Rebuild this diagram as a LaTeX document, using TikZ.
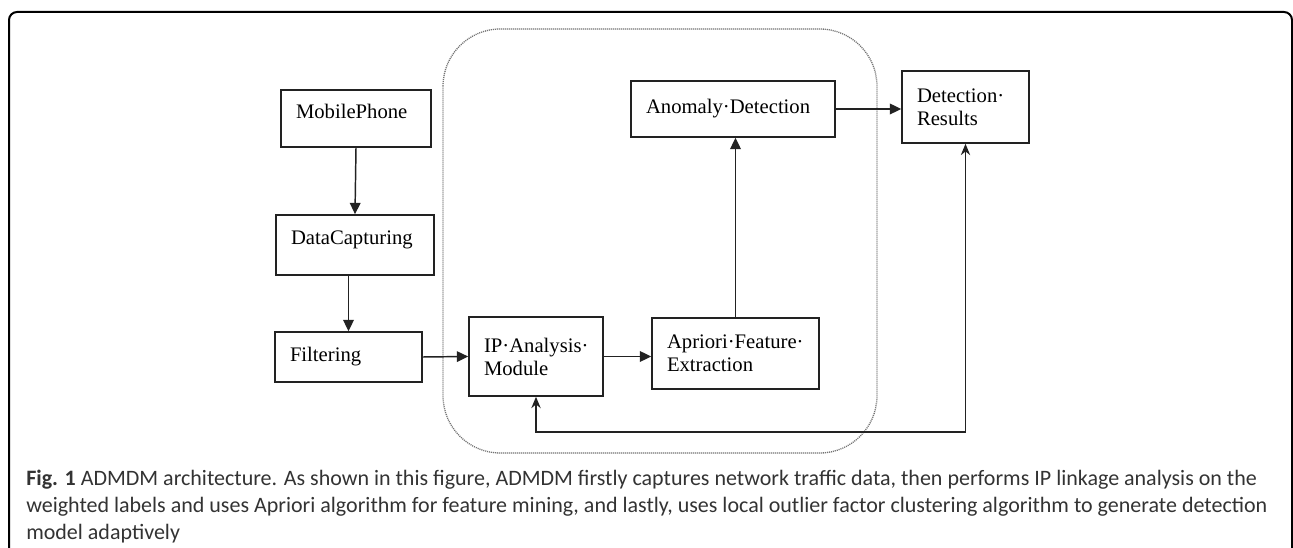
\documentclass[tikz,border=0pt]{standalone}
\usepackage{fontspec}
\setmainfont{Liberation Serif}
\newfontfamily\capfont{Carlito}
\usepackage{tikz}
\usetikzlibrary{arrows.meta, calc, positioning}
\tikzset{>=stealth}
\definecolor{linegray}{HTML}{222222}
\definecolor{capgray}{HTML}{333333}

\begin{document}
\begin{tikzpicture}[x=0.75pt, y=-0.75pt,
  block/.style={draw=linegray, line width=1.2pt, inner xsep=11.25pt, inner ysep=0pt, align=left, font=\fontsize{15.5}{17.25}\selectfont},
  arr/.style={draw=linegray, line width=1.1pt, -{Triangle[length=8.5pt,width=8pt]}},
  fb/.style={draw=linegray, line width=1.1pt, {Stealth[length=8.5pt,width=7pt]}-{Stealth[length=8.5pt,width=7pt]}},
  group/.style={draw=black!55, line width=1pt, dash pattern=on 0.8pt off 0.7pt, rounded corners=43pt}]

	\useasboundingbox (0,0) rectangle (1293,548);
	% figure frame, open at the bottom
	\draw[line width=1.5pt, rounded corners=6pt] (9,570) -- (9,12) -- (1292,12) -- (1292,570);
	% dotted group round the analysis part
	\draw[group] (443,29) rectangle (877,453);

	\node[block, text width=90pt, minimum height=42.75pt, text height=12pt, text depth=12pt] (mobile) at (356,118.5) {MobilePhone};
	\node[block, text width=96pt, minimum height=45pt, text height=12pt, text depth=12pt] (capture) at (355,245) {DataCapturing};
	\node[block, text width=87.75pt, minimum height=37.5pt] (filter) at (348.5,357) {Filtering};
	\node[block, text width=78pt, minimum height=59.25pt] (ipmod) at (536,356.5) {IP·Analysis·\\Module};
	\node[block, text width=102.75pt, minimum height=53.25pt] (apriori) at (735.5,353.5) {Apriori·Feature·\\Extraction};
	\node[block, text width=130.5pt, minimum height=42pt] (anomaly) at (733,109) {Anomaly·Detection};
	\node[block, text width=72.75pt, minimum height=54pt] (results) at (965.5,107) {Detection·\\Results};
	\coordinate (loop) at (750,432);

	\draw[arr] (mobile.south) -- (capture.north);
	\draw[arr] (capture.south -| filter.north) -- (filter.north);
	\draw[arr] (filter.east) -- (ipmod.west);
	\draw[arr] (ipmod.east) -- (ipmod.east -| apriori.west);
	\draw[arr] (apriori.north) -- (apriori.north |- anomaly.south);
	\draw[arr] (anomaly.east) -- (anomaly.east -| results.west);
	\draw[fb] (ipmod.south) |- (loop) -| (results.south);

	\node[anchor=base west, align=left, inner sep=0pt, text=capgray, font=\capfont\fontsize{16.5}{20.25}\selectfont] (caption) at (26,540) {\textbf{Fig. 1} ADMDM architecture. As shown in this figure, ADMDM firstly captures network traffic data, then performs IP linkage analysis on the\\weighted labels and uses Apriori algorithm for feature mining, and lastly, uses local outlier factor clustering algorithm to generate detection\\model adaptively};
\end{tikzpicture}
\end{document}
